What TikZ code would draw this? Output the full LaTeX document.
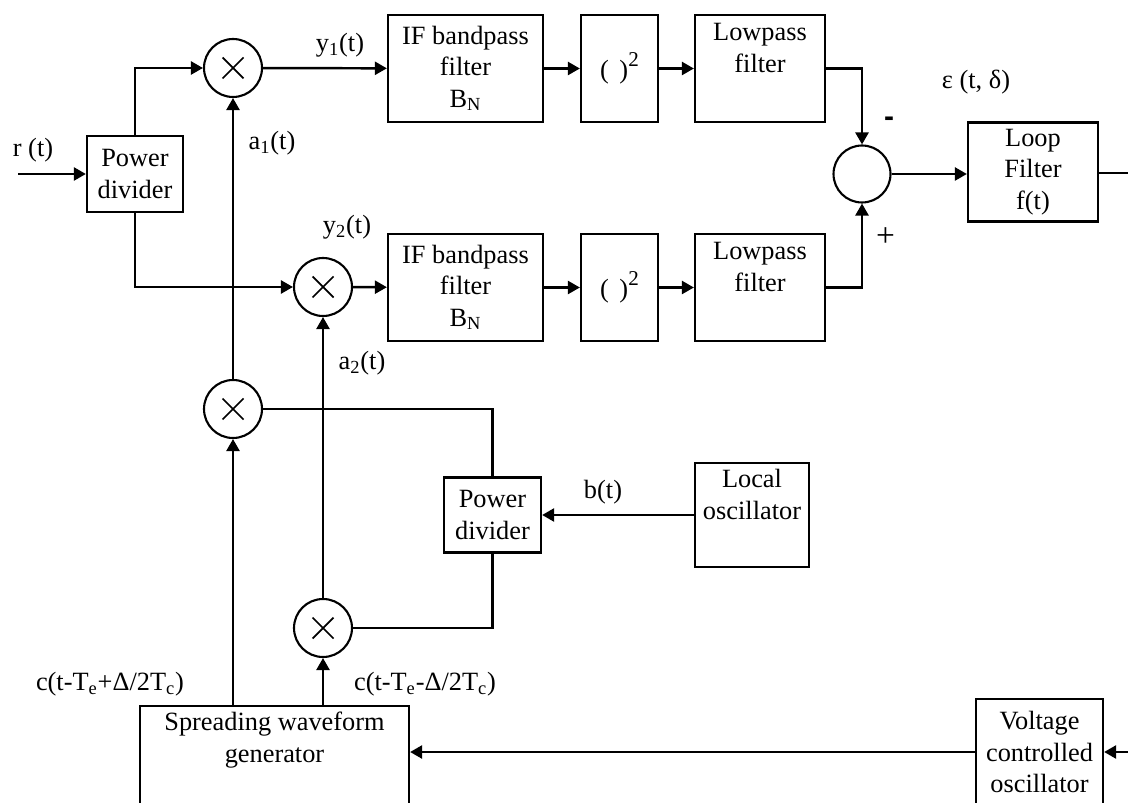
\documentclass[tikz,border=0pt]{standalone}
\usepackage{fontspec}
\setmainfont{Liberation Serif}
\setsansfont{Liberation Sans}
\usetikzlibrary{arrows.meta,positioning,calc}

\newcommand{\sqbox}{(\hspace{0.4em})\raisebox{7pt}{\fontsize{12}{12}\selectfont 2}}

\begin{document}
\begin{tikzpicture}[x=0.02cm, y=-0.02cm,
    font=\fontsize{15}{17.9}\selectfont,
    blk/.style={draw, line width=1.3pt, align=center, inner sep=0pt},
    mix/.style={circle, draw, line width=1.2pt, minimum size=1.16cm, inner sep=0pt,
        path picture={\draw[line width=1pt]
            ([shift={(-0.21cm,-0.21cm)}]path picture bounding box.center) -- ([shift={(0.21cm,0.21cm)}]path picture bounding box.center)
            ([shift={(-0.21cm,0.21cm)}]path picture bounding box.center) -- ([shift={(0.21cm,-0.21cm)}]path picture bounding box.center);}},
    sumr/.style={circle, draw, line width=1.2pt, minimum size=1.14cm, inner sep=0pt},
    arr/.style={-{Triangle[length=0.24cm,width=0.26cm]}, line width=1.4pt},
    wire/.style={line width=1.4pt},
    lbl/.style={inner sep=0pt}
]
\useasboundingbox (0,0) rectangle (1128,803);

% mixers
\node[mix] (m1) at (233,68) {};
\node[mix] (m2) at (323,287) {};
\node[mix] (m3) at (233,409) {};
\node[mix] (m4) at (323,628) {};

% boxes
\node[blk, minimum width=1.92cm, minimum height=1.52cm] (pdin) at (135,174) {Power\\divider};
\node[blk, minimum width=3.1cm, minimum height=2.14cm] (bp1) at (465.5,68.5) {IF bandpass\\filter\\B\textsubscript{N}};
\node[blk, minimum width=1.54cm, minimum height=2.14cm] (sq1) at (619.5,68.5) {\sqbox};
\node[blk, minimum width=2.6cm, minimum height=2.14cm] (lp1) at (760,68.5) {Lowpass\\filter\\\strut};
\node[blk, minimum width=3.1cm, minimum height=2.14cm] (bp2) at (465.5,287.5) {IF bandpass\\filter\\B\textsubscript{N}};
\node[blk, minimum width=1.54cm, minimum height=2.14cm] (sq2) at (619.5,287.5) {\sqbox};
\node[blk, minimum width=2.6cm, minimum height=2.14cm] (lp2) at (760,287.5) {Lowpass\\filter\\\strut};
\node[sumr] (sum) at (862,174) {};
\node[blk, minimum width=2.6cm, minimum height=1.98cm] (lf) at (1033,172) {Loop\\Filter\\f(t)};
\node[blk, minimum width=1.94cm, minimum height=1.5cm] (pdlo) at (492.5,515) {Power\\divider};
\node[blk, minimum width=2.28cm, minimum height=2.08cm] (lo) at (752,515) {Local\\oscillator\\\strut};
\node[blk, minimum width=5.38cm, minimum height=2.7cm] (swg) at (274.5,773.5) {Spreading waveform\\generator\\\strut\\\strut};
\node[blk, minimum width=2.54cm, minimum height=2.12cm] (vco) at (1039.5,752) {Voltage\\controlled\\oscillator};

\coordinate (rin) at (18,174);
\coordinate (lfout) at (1128,173);
\coordinate (vcoin) at (1128,752);

% signal path
\draw[arr] (rin) -- (pdin);
\draw[arr] (pdin.north) |- (m1);
\draw[arr] (pdin.south) |- (m2);
\draw[arr] (m1) -- (bp1);
\draw[arr] (bp1) -- (sq1);
\draw[arr] (sq1) -- (lp1);
\draw[arr] (m2) -- (bp2);
\draw[arr] (bp2) -- (sq2);
\draw[arr] (sq2) -- (lp2);
\draw[arr] (lp1) -| (sum);
\draw[arr] (lp2) -| (sum);
\draw[arr] (sum) -- (sum -| lf.west);
\draw[wire] (lf.east |- lfout) -- (lfout);

% feedback and reference
\draw[arr] (vcoin) -- (vco);
\draw[arr] (vco) -- (vco -| swg.east);
\draw[arr] (swg.north -| m3) -- (m3);
\draw[arr] (swg.north -| m4) -- (m4);
\draw[arr] (m3) -- (m1);
\draw[arr] (m4) -- (m2);
\draw[wire] (m3) -| (pdlo);
\draw[wire] (m4) -| (pdlo);
\draw[arr] (lo) -- (pdlo);

% labels
\node[lbl] (rlbl) at (33,150) {r (t)};
\node[lbl] (y1lbl) at (340,45) {y\textsubscript{1}(t)};
\node[lbl] (y2lbl) at (347,227) {y\textsubscript{2}(t)};
\node[lbl] (a1lbl) at (272,143) {a\textsubscript{1}(t)};
\node[lbl] (a2lbl) at (362,363) {a\textsubscript{2}(t)};
\node[lbl] (blbl) at (603,492) {b(t)};
\node[lbl, font=\sffamily\bfseries\fontsize{17}{17}\selectfont] (minus) at (889,122) {-};
\node[lbl, font=\fontsize{19}{19}\selectfont] (plus) at (885.5,237) {+};
\node[lbl] (eps) at (976,82) {ε (t, δ)};
\node[lbl] (cplus) at (110,684) {c(t-T\textsubscript{e}+Δ/2T\textsubscript{c})};
\node[lbl] (cminus) at (425,684) {c(t-T\textsubscript{e}-Δ/2T\textsubscript{c})};
\end{tikzpicture}
\end{document}
